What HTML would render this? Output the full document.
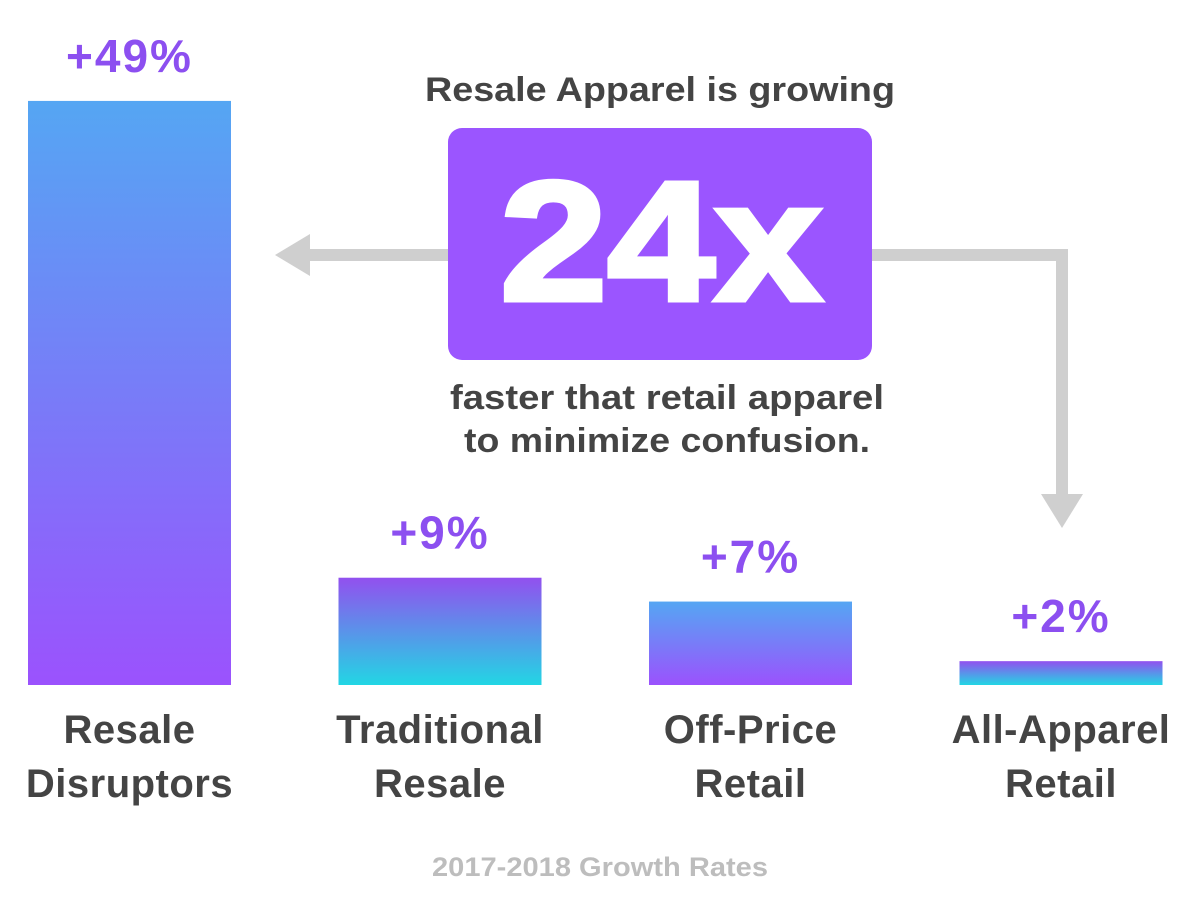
<!DOCTYPE html>
<html><head><meta charset="utf-8"><style>
html,body{margin:0;padding:0;background:#fff;}
svg{display:block;font-family:"Liberation Sans",sans-serif;}
</style></head><body>
<svg id="chart" width="1200" height="916" viewBox="0 0 1200 916">
<defs>
<linearGradient id="gBP" x1="0" y1="0" x2="0" y2="1"><stop offset="0" stop-color="#55a6f3"/><stop offset="1" stop-color="#9b52fd"/></linearGradient>
<linearGradient id="gPC" x1="0" y1="0" x2="0" y2="1"><stop offset="0" stop-color="#9250ef"/><stop offset="1" stop-color="#22d6e4"/></linearGradient>
</defs>
<g id="bars"></g>
<g id="arrows" fill="#cfcfcf" stroke="none">
<rect x="300" y="249" width="150" height="12"/>
<polygon points="275,255 310,234 310,276"/>
<rect x="870" y="249" width="198" height="12"/>
<rect x="1056" y="249" width="12" height="250"/>
<polygon points="1062,528 1041,494 1083,494"/>
</g>
<text x="425" y="101" textLength="470" lengthAdjust="spacingAndGlyphs" font-size="34" font-weight="bold" fill="#444">Resale Apparel is growing</text>
<rect x="448" y="128" width="424" height="232" rx="14" fill="#9b55ff"/>
<text x="500" y="300" textLength="322" lengthAdjust="spacingAndGlyphs" font-size="170" font-weight="900" fill="#fff" stroke="#fff" stroke-width="5">24x</text>
<text x="450" y="409" textLength="434" lengthAdjust="spacingAndGlyphs" font-size="34" font-weight="bold" fill="#444">faster that retail apparel</text>
<text x="464" y="452" textLength="406" lengthAdjust="spacingAndGlyphs" font-size="34" font-weight="bold" fill="#444">to minimize confusion.</text>
<text x="432" y="876" textLength="336" lengthAdjust="spacingAndGlyphs" font-size="27" font-weight="bold" fill="#bdbdbd">2017-2018 Growth Rates</text>
</svg>
<script>
const categories = [["Resale","Disruptors"],["Traditional","Resale"],["Off-Price","Retail"],["All-Apparel","Retail"]];
const values = [49, 9, 7, 2];
const valueLabels = ["+49%","+9%","+7%","+2%"];
const fills = ["url(#gBP)","url(#gPC)","url(#gBP)","url(#gPC)"];
const NS="http://www.w3.org/2000/svg";
const baseY=685, pxPer=11.92, x0=28, step=310.5, bw=203;
const yScale=v=>baseY-v*pxPer;
const g=document.getElementById('bars');
values.forEach((v,i)=>{
  const x=x0+i*step, y=yScale(v);
  const r=document.createElementNS(NS,'rect');
  r.setAttribute('x',x);r.setAttribute('y',y);r.setAttribute('width',bw);r.setAttribute('height',baseY-y);r.setAttribute('fill',fills[i]);
  
  
  g.appendChild(r);
  const t=document.createElementNS(NS,'text');
  t.setAttribute('x',x+bw/2);t.setAttribute('y',y-29);t.setAttribute('text-anchor','middle');
  t.setAttribute('font-size','46');t.setAttribute('font-weight','bold');t.setAttribute('fill','#8c4ff0');
  t.setAttribute('letter-spacing','2');
  t.textContent=valueLabels[i];
  
  
  g.appendChild(t);
  categories[i].forEach((line,j)=>{
    const c=document.createElementNS(NS,'text');
    c.setAttribute('x',x+bw/2);c.setAttribute('y',743+j*54);c.setAttribute('text-anchor','middle');
    c.setAttribute('font-size','40');c.setAttribute('font-weight','bold');c.setAttribute('fill','#444');
    c.setAttribute('letter-spacing','0.5');
    c.textContent=line;
    
    
    g.appendChild(c);
  });
});
</script>
</body></html>
